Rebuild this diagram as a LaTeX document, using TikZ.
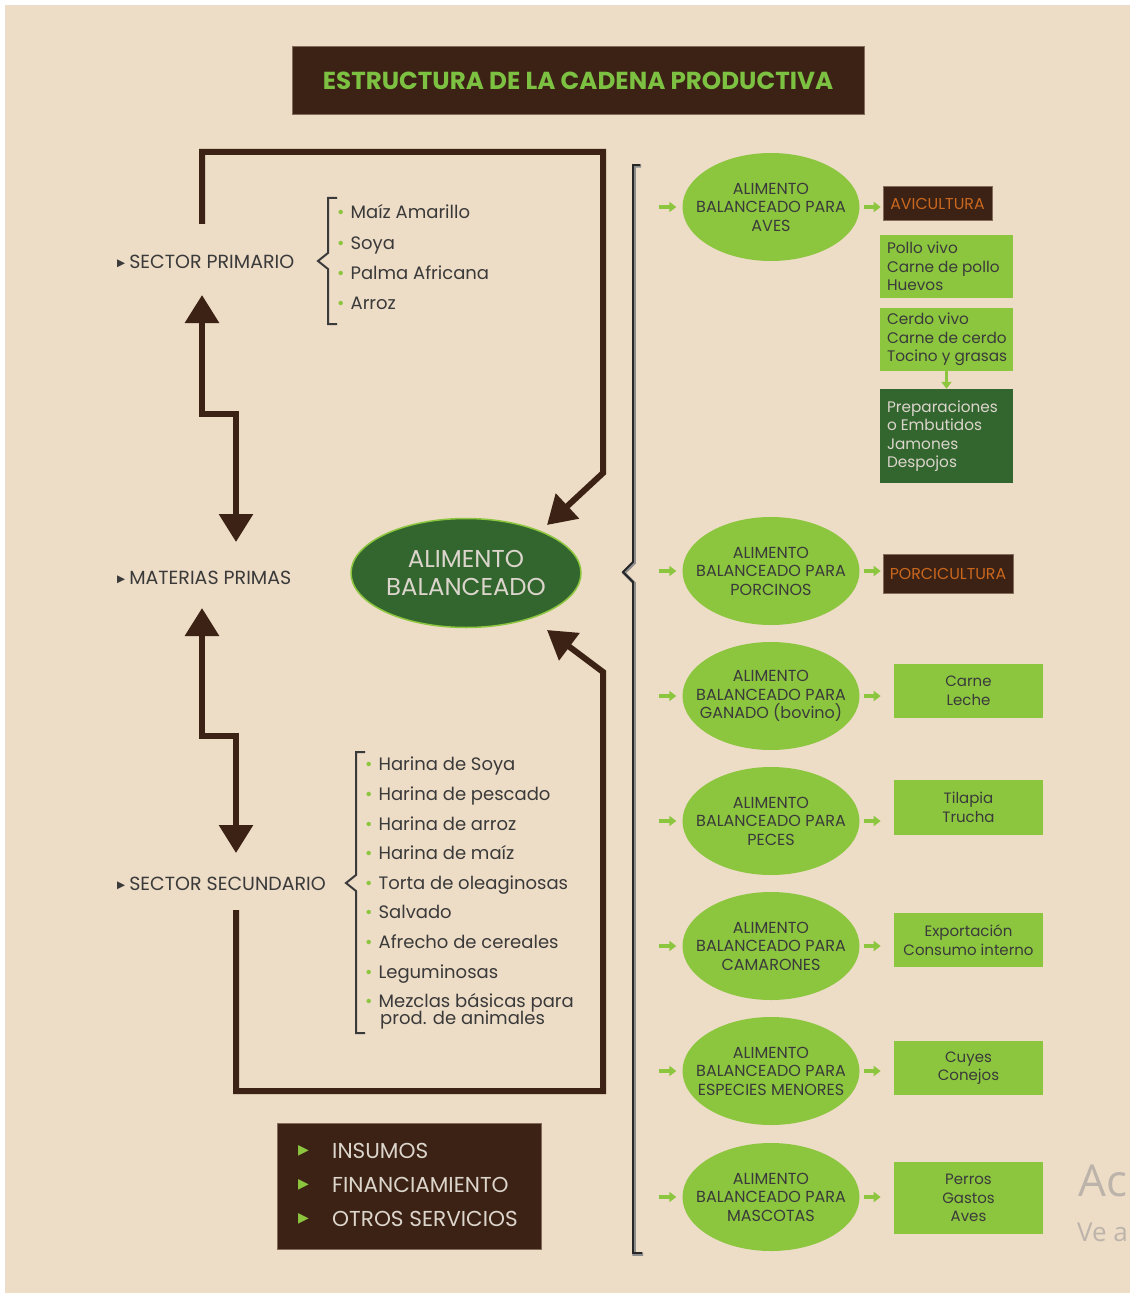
\documentclass[tikz,border=0pt]{standalone}
\usepackage{fontspec}
\setmainfont{Poppins}
\newfontfamily\dvs{DejaVu Sans}
\newfontfamily\wmfont{Open Sans}
\usetikzlibrary{arrows.meta,shapes.geometric,calc}
\definecolor{bg}{HTML}{EDDCC6}
\definecolor{brn}{HTML}{3C2214}
\definecolor{lgr}{HTML}{8CC63F}
\definecolor{dgr}{HTML}{33662F}
\definecolor{ttl}{HTML}{7DC142}
\definecolor{org}{HTML}{C9671F}
\definecolor{txt}{HTML}{3A3A3A}
\definecolor{ltx}{HTML}{DCD5CC}
\definecolor{wm}{HTML}{BCB4AA}
\newcommand{\fsz}[2]{\fontsize{#1}{#2}\selectfont}
\newcommand{\tribul}{\raisebox{1.5pt}{\dvs\fsz{10.5}{10.5}▶}}
\begin{document}
\begin{tikzpicture}[x=1pt,y=-1pt,
  brline/.style={line width=6pt, draw=brn, line join=miter},
  bigtip/.style={-{Triangle[width=33pt,length=28pt]}},
  bothtip/.style={{Triangle[width=33pt,length=28pt]}-{Triangle[width=33pt,length=28pt]}},
  lbl/.style={anchor=base west, inner sep=0, text=txt, font=\fsz{19}{22}},
  itm/.style={anchor=base west, inner sep=0, text=txt, font=\fsz{18}{18}},
  brace/.style={line width=2pt, draw=txt},
  ell/.style={ellipse, fill=lgr, minimum width=177pt, minimum height=108pt, inner sep=0},
  elltext/.style={inner sep=0, align=center, text=txt, font=\fsz{16}{18.5}},
  gar/.style={draw=lgr, line width=4pt, -{Triangle[width=10pt,length=7pt]}},
  dbox/.style={fill=brn, draw=brn!60!bg, line width=1pt, inner sep=0},
  gbox/.style={fill=lgr, inner sep=0, text=txt, font=\fsz{15}{18.5}},
  gtext/.style={anchor=west, inner sep=0, align=left, text=txt, font=\fsz{15.3}{18.5}}
]
\fill[white] (0,0) rectangle (1132,1297);
\fill[bg] (5,5) rectangle (1130,1293);
\useasboundingbox (0,0) rectangle (1132,1297);

% title
\node[dbox, minimum width=572pt, minimum height=68pt, text=ttl, font=\bfseries\fsz{24.6}{28}] (title) at (578,81) {ESTRUCTURA DE LA CADENA PRODUCTIVA};

% left labels
\node[lbl] (sp) at (117,268) {\tribul\hspace{4pt}SECTOR PRIMARIO};
\node[lbl] (mp) at (117,584) {\tribul\hspace{4pt}MATERIAS PRIMAS};
\node[lbl] (ss) at (117,890) {\tribul\hspace{4pt}SECTOR SECUNDARIO};

% primary list
\draw[brace] (337,198) -- (328,198) -- (328,253) -- (318,261) -- (328,269) -- (328,324) -- (337,324);
\foreach \y/\t [count=\i] in {219/Maíz Amarillo, 249/Soya, 279/Palma Africana, 309/Arroz}
  \node[itm] (p\i) at (337,\y) {{\color{lgr}•}\hspace{6pt}\t};

% secondary list
\draw[brace] (365,752) -- (356,752) -- (356,875) -- (346,883) -- (356,891) -- (356,1033) -- (365,1033);
\foreach \y/\t [count=\i] in {770/Harina de Soya, 800/Harina de pescado, 830/Harina de arroz, 859/Harina de maíz, 889/Torta de oleaginosas, 918/Salvado, 948/Afrecho de cereales, 978/Leguminosas, 1007/Mezclas básicas para}
  \node[itm] (s\i) at (365,\y) {{\color{lgr}•}\hspace{6pt}\t};
\node[itm] (s10) at (380,1024) {prod. de animales};

% central ellipse
\node[ellipse, fill=dgr, draw=lgr, line width=1.5pt, minimum width=230pt, minimum height=109pt, inner sep=0, text=ltx, font=\fsz{24.4}{28}, align=center] (ab) at (466,573) {ALIMENTO\\BALANCEADO};

% thick connectors
\coordinate (spup) at (202,224);
\coordinate (tipT) at (547,525);
\coordinate (ssdn) at (236,910);
\coordinate (tipB) at (547,630);
\coordinate (spA) at (202,295);
\coordinate (mpA) at (236,542);
\coordinate (mpB) at (202,608);
\coordinate (ssB) at (236,853);
\draw[brline, bigtip] (spup) -- (202,152) -- (603,152) -- (603,473) -- (tipT);
\draw[brline, bigtip] (ssdn) -- (236,1091) -- (603,1091) -- (603,672) -- (tipB);
\draw[brline, bothtip] (spA) -- (202,414) -- (236,414) -- (mpA);
\draw[brline, bothtip] (mpB) -- (202,736) -- (236,736) -- (ssB);

% right brace
\draw[line width=3.5pt, draw=black!45] (641,166) -- (634,166) -- (634,563) -- (624,573) -- (634,583) -- (634,1254) -- (643,1254);
\draw[line width=1.8pt, draw=black!85] (640,165) -- (633,165) -- (633,562) -- (623,572) -- (633,582) -- (633,1253) -- (642,1253);

% right ellipses
\foreach \n/\y/\t in {e1/207/AVES, e2/571/PORCINOS, e3/696/GANADO (bovino), e4/821/PECES, e5/946/CAMARONES, e6/1071/ESPECIES MENORES, e7/1197/MASCOTAS}{
  \node[ell] (\n) at (771,\y) {};
  \node[elltext] (\n t) at (\n.center) {ALIMENTO\\BALANCEADO PARA\\\t};
  \draw[gar] ($(\n.west)+(-23,0)$) -- ($(\n.west)+(-6,0)$);
  \draw[gar] ($(\n.east)+(4,0)$) -- ($(\n.east)+(21,0)$);
}

% result boxes
\node[dbox, minimum width=109pt, minimum height=34pt, text=org, font=\fsz{15.8}{17}] (avi) at (937.5,204) {AVICULTURA};
\node[gbox, minimum width=133pt, minimum height=63pt] (pollo) at (946.5,266.5) {};
\node[gtext] at ($(pollo.west)+(7,0)$) {Pollo vivo\\Carne de pollo\\Huevos};
\node[gbox, minimum width=133pt, minimum height=63pt] (cerdo) at (946.5,339.5) {};
\node[gtext] at ($(cerdo.west)+(7,0)$) {Cerdo vivo\\Carne de cerdo\\Tocino y grasas};
\node[gbox, fill=dgr, minimum width=133pt, minimum height=94pt] (prep) at (946.5,436) {};
\node[gtext, text=ltx] at ($(prep.west)+(7,0)$) {Preparaciones\\o Embutidos\\Jamones\\Despojos};
\draw[gar, line width=3pt] (cerdo.south) -- (prep.north);

\node[dbox, minimum width=130pt, minimum height=39pt, text=org, font=\fsz{15.8}{17}] (porci) at (948,573.5) {PORCICULTURA};
\node[gbox, minimum width=149pt, minimum height=54pt, align=center] (carne) at (968.5,691) {Carne\\Leche};
\node[gbox, minimum width=149pt, minimum height=55pt, align=center] (tilapia) at (968.5,807.5) {Tilapia\\Trucha};
\node[gbox, minimum width=149pt, minimum height=54pt, align=center] (expo) at (968.5,940) {Exportación\\Consumo interno};
\node[gbox, minimum width=149pt, minimum height=54pt, align=center] (cuyes) at (968.5,1068) {Cuyes\\Conejos};
\node[gbox, minimum width=149pt, minimum height=72pt, align=center] (perros) at (968.5,1198) {Perros\\Gastos\\Aves};

% bottom box
\node[dbox, minimum width=264pt, minimum height=126pt] (ins) at (409,1186) {};
\foreach \y/\t in {1151/INSUMOS, 1185/FINANCIAMIENTO, 1219/OTROS SERVICIOS}{
  \node[anchor=west, inner sep=0, text=lgr, font=\dvs\fsz{14}{14}] at (298,\y) {▶};
  \node[anchor=west, inner sep=0, text=ltx, font=\fsz{21.6}{24}] at (332,\y) {\t};
}

% watermark
\node[anchor=west, inner sep=0, text=wm, font=\wmfont\fsz{44}{44}] (wm1) at (1078,1181) {Ac};
\node[anchor=west, inner sep=0, text=wm, font=\wmfont\fsz{26}{26}] (wm2) at (1077,1232) {Ve a};
\end{tikzpicture}
\end{document}
